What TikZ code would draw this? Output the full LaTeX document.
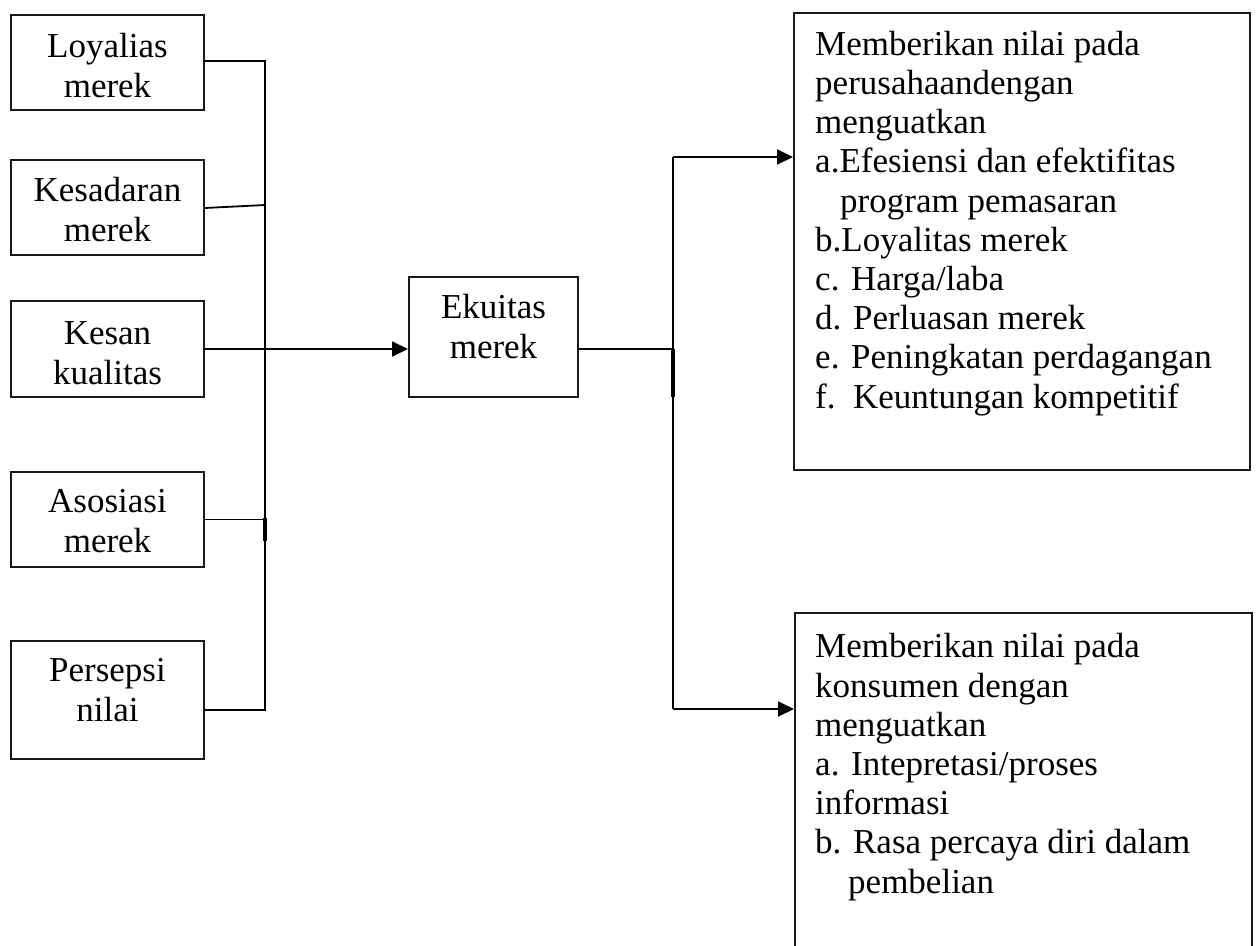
\documentclass[tikz,border=0pt]{standalone}
\usepackage{fontspec}
\setmainfont{Liberation Serif}
\usetikzlibrary{arrows.meta}

\tikzset{
  box/.style={draw=black!90, line width=2pt, inner sep=0pt},
  conn/.style={draw=black, line width=1.8pt},
  arr/.style={conn, -{Triangle[length=16pt,width=15pt]}},
  thick seg/.style={draw=black, line width=3.6pt},
  % multi-line texts are placed by the baseline of their last line
  ctext/.style={align=center, inner sep=0pt, anchor=base,
    font=\fontsize{35}{40}\selectfont},
  ltext/.style={align=left, inner sep=0pt, anchor=base west,
    font=\fontsize{35}{39.2}\selectfont},
}

\begin{document}
\begin{tikzpicture}[x=1pt,y=-1pt]
\useasboundingbox (0,0) rectangle (1257,945);

% left column: the five brand-equity dimensions
\node[box, minimum width=193pt, minimum height=95pt]  (b1) at (107.5,62.5) {};
\node[box, minimum width=193pt, minimum height=95pt]  (b2) at (107.5,207.5) {};
\node[box, minimum width=193pt, minimum height=96pt]  (b3) at (107.5,349) {};
\node[box, minimum width=193pt, minimum height=95pt]  (b4) at (107.5,519.5) {};
\node[box, minimum width=193pt, minimum height=118pt] (b5) at (107.5,700) {};

\node[ctext] (t1) at (107.5,97)  {Loyalias\\merek};
\node[ctext] (t2) at (107.5,241) {Kesadaran\\merek};
\node[ctext] (t3) at (107.5,384) {Kesan\\kualitas};
\node[ctext] (t4) at (107.5,552) {Asosiasi\\merek};
\node[ctext] (t5) at (107.5,721) {Persepsi\\nilai};

% centre: brand equity
\node[box, minimum width=169pt, minimum height=120pt] (ek) at (493.5,337) {};
\node[ctext] (tek) at (493.5,358) {Ekuitas\\merek};

% right column: value for the firm and for the consumer
\node[box, minimum width=456pt, minimum height=457pt] (r1) at (1022,241.5) {};
\node[ltext] (tr1) at (815,408) {Memberikan nilai pada\\
perusahaandengan\\
menguatkan\\
a.Efesiensi dan efektifitas\\
\hspace*{25pt}program pemasaran\\
b.Loyalitas merek\\
c. Harga/laba\\
d. Perluasan merek\\
e. Peningkatan perdagangan\\
f.\ \ Keuntungan kompetitif};

\node[box, minimum width=457pt, minimum height=360pt] (r2) at (1023.5,793) {};
\node[ltext] (tr2) at (815,893) {Memberikan nilai pada\\
konsumen dengan\\
menguatkan\\
a. Intepretasi/proses\\
informasi\\
b. Rasa percaya diri dalam\\
\hspace*{33pt}pembelian};

% collecting bus on the left
\coordinate (busT) at (265,61);
\coordinate (j2)   at (265,205);
\coordinate (busB) at (265,710);
\draw[conn] (b1.east |- busT) -- (busT) -- (busB) -- (b5.east |- busB);
\draw[conn] ([yshift=-0.5pt]b2.east) -- (j2);
\draw[conn] (b4.east) -- (b4.east -| busT);
\draw[thick seg] (265,518) -- (265,541);
\draw[arr] (b3.east) -- (b3.east -| ek.west);

% distribution bus on the right
\coordinate (rj) at (673,349);
\coordinate (rT) at (673,157);
\coordinate (rB) at (673,709);
\draw[conn] (ek.east |- rj) -- (rj);
\draw[conn] (rT) -- (rB);
\draw[thick seg] (673,349) -- (673,397);
\draw[arr] (rT) -- (rT -| r1.west);
\draw[arr] (rB) -- (rB -| r2.west);
\end{tikzpicture}
\end{document}
